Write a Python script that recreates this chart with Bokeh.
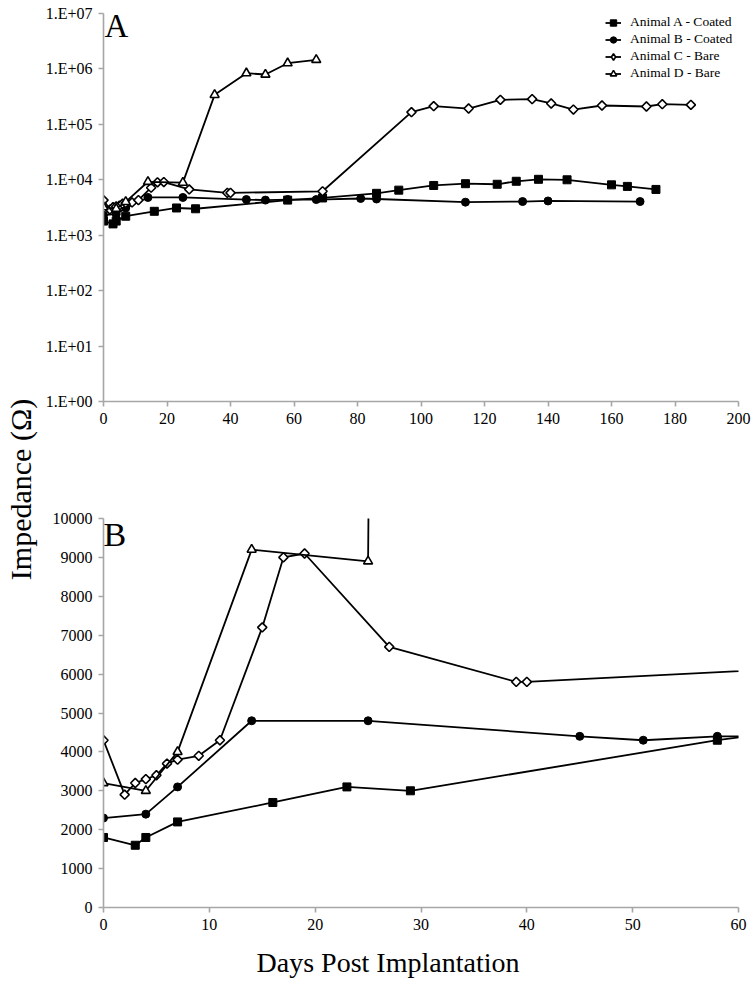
import numpy as np
from bokeh.plotting import figure
from bokeh.models import Range1d, FixedTicker, Legend, LegendItem, Label
from bokeh.layouts import row, column
from bokeh.embed import file_html
from bokeh.resources import INLINE
from bokeh.core.properties import value

# ---------------- data ----------------
series_names = ["Animal A - Coated", "Animal B - Coated", "Animal C - Bare", "Animal D - Bare"]

days_a = [0, 3, 4, 7, 16, 23, 29, 58, 69, 86, 93, 104, 114, 124, 130, 137, 146, 160, 165, 174]
imp_a = [1800, 1600, 1800, 2200, 2700, 3100, 3000, 4300, 4700, 5700, 6500, 7900, 8500, 8300,
         9400, 10200, 10000, 8100, 7600, 6700]

days_b = [0, 4, 7, 14, 25, 45, 51, 58, 67, 81, 86, 114, 132, 140, 169]
imp_b = [2300, 2400, 3100, 4800, 4800, 4400, 4300, 4400, 4400, 4600, 4500, 3950, 4050, 4150, 4050]

days_c = [0, 2, 3, 4, 5, 6, 7, 9, 11, 15, 17, 19, 27, 39, 40, 69, 97, 104, 115, 125, 135, 141,
          148, 157, 171, 176, 185]
imp_c = [4300, 2900, 3200, 3300, 3400, 3700, 3800, 3900, 4300, 7200, 9000, 9100, 6700, 5800, 5800,
         6200, 166000, 213000, 193000, 277000, 285000, 238000, 185000, 219000, 210000, 231000, 225000]

days_d = [0, 4, 7, 14, 25, 35, 45, 51, 58, 67]
imp_d = [3200, 3000, 4000, 9200, 8900, 341000, 837000, 793000, 1268000, 1462000]

log_ticks = [1.0, 10.0, 100.0, 1000.0, 10000.0, 100000.0, 1000000.0, 10000000.0]
log_tick_labels = ["1.E+00", "1.E+01", "1.E+02", "1.E+03", "1.E+04", "1.E+05", "1.E+06", "1.E+07"]
top_x_ticks = [0, 20, 40, 60, 80, 100, 120, 140, 160, 180, 200]
bottom_x_ticks = [0, 10, 20, 30, 40, 50, 60]
bottom_y_ticks = [0, 1000, 2000, 3000, 4000, 5000, 6000, 7000, 8000, 9000, 10000]

y_title = "Impedance (Ω)"
x_title = "Days Post Implantation"

# ---------------- style ----------------
FONT = "Liberation Serif"
AXIS_GRAY = "#a6a6a6"

marker_styles = [
    dict(marker="square", size=8, fill_color="black", line_color="black", angle=0.0, line_width=1),
    dict(marker="circle", size=8, fill_color="black", line_color="black", angle=0.0, line_width=1),
    dict(marker="square", size=6.5, fill_color="white", line_color="black", angle=np.pi / 4, line_width=1.6),
    dict(marker="triangle", size=9, fill_color="white", line_color="black", angle=0.0, line_width=1.6),
]
all_days = [days_a, days_b, days_c, days_d]
all_imp = [imp_a, imp_b, imp_c, imp_d]


def style(p):
    p.axis.axis_line_color = AXIS_GRAY
    p.axis.axis_line_width = 1.6
    p.axis.major_tick_line_color = AXIS_GRAY
    p.axis.major_tick_line_width = 1.6
    p.axis.major_tick_out = 5
    p.axis.major_tick_in = 0
    p.axis.minor_tick_line_color = None
    p.axis.major_label_text_font = FONT
    p.axis.major_label_text_font_size = "16px"
    p.axis.major_label_text_color = "black"
    p.xaxis.major_label_standoff = 6
    p.yaxis.major_label_standoff = 6
    p.xgrid.visible = False
    p.ygrid.visible = False
    p.outline_line_color = None
    p.background_fill_color = "white"
    p.border_fill_color = "white"


def draw_series(p):
    rends = []
    for d, v, st in zip(all_days, all_imp, marker_styles):
        l = p.line(d, v, line_color="black", line_width=1.8)
        s = p.scatter(d, v, **st)
        rends.append((l, s))
    return rends


# ---------------- top panel (log) ----------------
top = figure(frame_width=635, frame_height=388, y_axis_type="log",
             x_range=Range1d(0, 200), y_range=Range1d(1, 1e7),
             min_border_left=60, min_border_right=15, min_border_top=13, min_border_bottom=40,
             output_backend="svg", toolbar_location=None)
rends = draw_series(top)
style(top)
top.xaxis.ticker = FixedTicker(ticks=top_x_ticks)
top.yaxis.ticker = FixedTicker(ticks=log_ticks)
top.yaxis.major_label_overrides = dict(zip(log_ticks, log_tick_labels))

# legend-only diamond glyph (legend markers are drawn unrotated); hidden in the plot
leg_diamond = top.scatter(days_c, imp_c, marker="diamond", size=9, fill_color="white",
                          line_color="black", line_width=1.6, visible=False)
legend_glyphs = [rends[0], rends[1], (rends[2][0], leg_diamond), rends[3]]

legend = Legend(items=[LegendItem(label=n, renderers=[l, s]) for n, (l, s) in zip(series_names, legend_glyphs)],
                location=(502, 319.5), margin=0, padding=0, spacing=0,
                glyph_width=16, glyph_height=17, label_height=17, label_standoff=9,
                label_text_font=FONT, label_text_font_size="13.5px", label_text_color="black",
                background_fill_alpha=0, border_line_color=None)
top.add_layout(legend)
top.add_layout(Label(x=1, y=376, x_units="screen", y_units="screen", text="A",
                     text_font=FONT, text_font_size="33px", text_color="black",
                     text_baseline="alphabetic"))

# ---------------- bottom panel (linear) ----------------
bot = figure(frame_width=635, frame_height=389,
             x_range=Range1d(0, 60), y_range=Range1d(0, 10000),
             min_border_left=60, min_border_right=15, min_border_top=77, min_border_bottom=33,
             output_backend="svg", toolbar_location=None)
draw_series(bot)
style(bot)
bot.xaxis.ticker = FixedTicker(ticks=bottom_x_ticks)
bot.yaxis.ticker = FixedTicker(ticks=bottom_y_ticks)
bot.add_layout(Label(x=0, y=373, x_units="screen", y_units="screen", text="B",
                     text_font=FONT, text_font_size="34px", text_color="black",
                     text_baseline="alphabetic"))

# ---------------- title strips ----------------
ytf = figure(frame_width=42, frame_height=985, x_range=Range1d(0, 42), y_range=Range1d(985, 0),
             min_border=0, x_axis_location=None, y_axis_location=None,
             output_backend="svg", toolbar_location=None)
ytf.xgrid.visible = False
ytf.ygrid.visible = False
ytf.outline_line_color = None
ytf.text(x=[20], y=[489], text=[y_title], angle=np.pi / 2, text_align="center",
         text_baseline="alphabetic", text_font=value(FONT), text_font_size="30px", text_color="black")

xtf = figure(frame_width=635, frame_height=45, x_range=Range1d(102, 737), y_range=Range1d(985, 940),
             min_border_left=60, min_border_right=15, min_border_top=0, min_border_bottom=0,
             x_axis_location=None, y_axis_location=None,
             output_backend="svg", toolbar_location=None)
xtf.xgrid.visible = False
xtf.ygrid.visible = False
xtf.outline_line_color = None
xtf.text(x=[386.5], y=[962], text=[x_title], text_align="center",
         text_baseline="alphabetic", text_font=value(FONT), text_font_size="28px", text_color="black")

layout = row(ytf, column(top, bot, xtf))

open("out.html", "w").write(file_html(layout, INLINE))
